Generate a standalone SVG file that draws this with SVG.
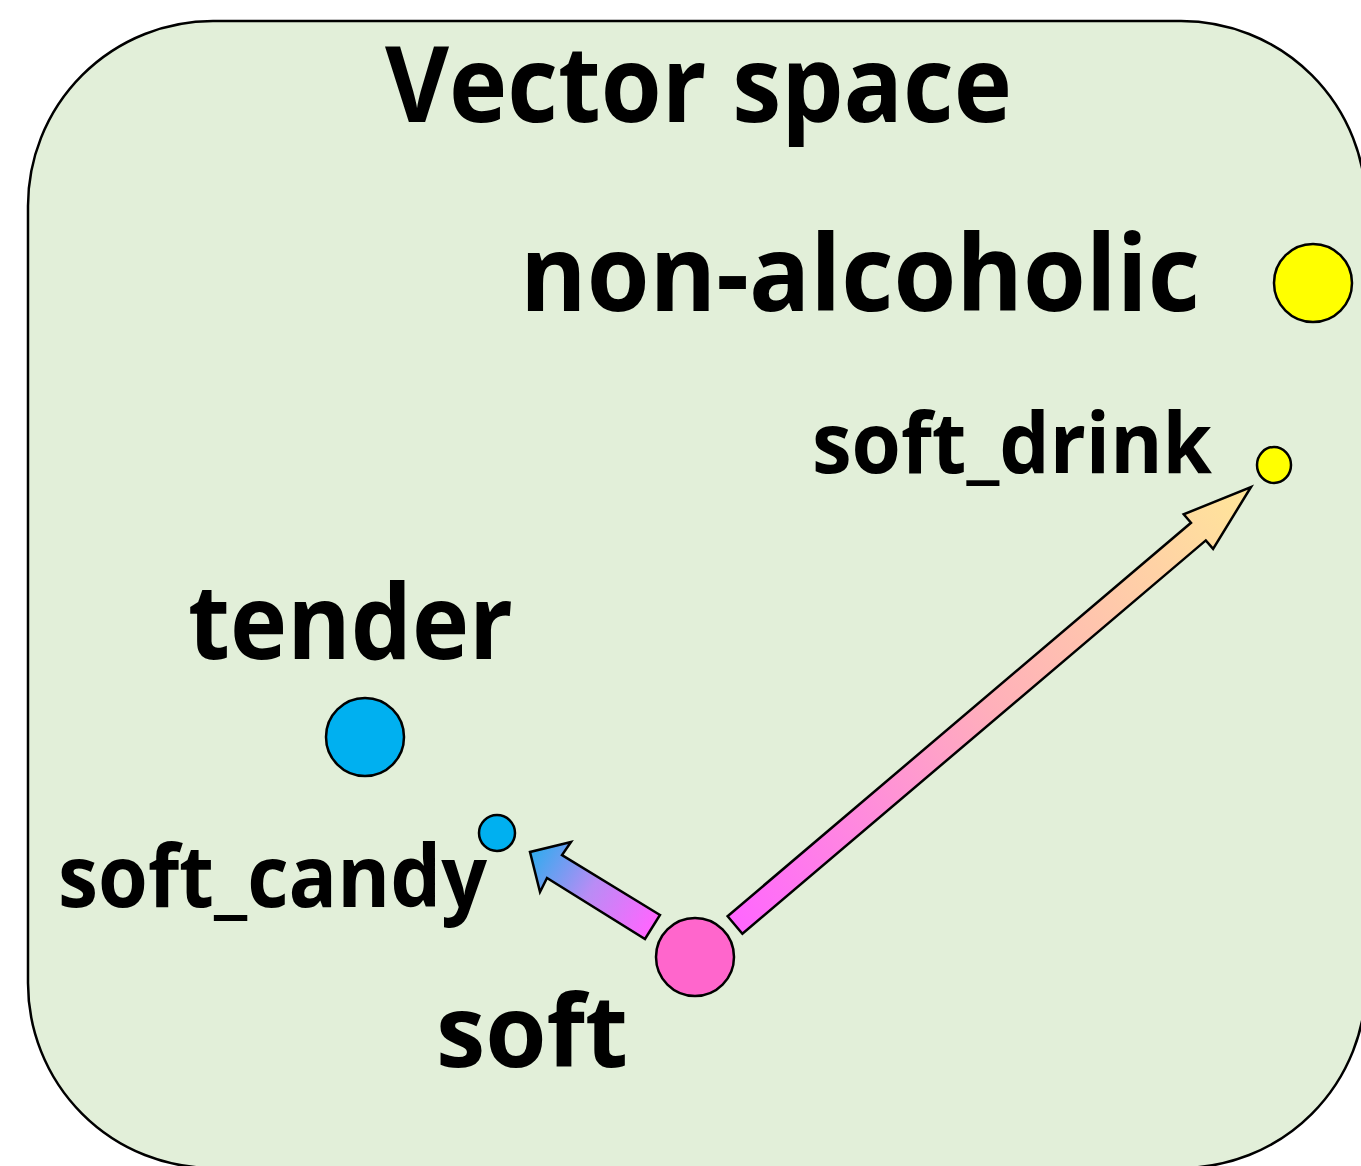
<svg xmlns="http://www.w3.org/2000/svg" width="1361" height="1166" viewBox="0 0 1361 1166">
<style>
  .lbl { font-family: "Open Sans", "Noto Sans", "Liberation Sans", sans-serif; font-weight: 700; fill: #000; }
  .dot { stroke: #000; stroke-width: 2.5; }
  .arrow { stroke: #000; stroke-width: 2.5; stroke-linejoin: miter; }
</style>
<defs>
  <linearGradient id="gDrink" gradientUnits="userSpaceOnUse" x1="735" y1="925" x2="1251" y2="487">
    <stop offset="0" stop-color="#FF66FF"/>
    <stop offset="0.5" stop-color="#FFB0BA"/>
    <stop offset="1" stop-color="#FFE699"/>
  </linearGradient>
  <linearGradient id="gCandy" gradientUnits="userSpaceOnUse" x1="652" y1="927" x2="530" y2="852">
    <stop offset="0" stop-color="#FF66FF"/>
    <stop offset="0.5" stop-color="#B98CF5"/>
    <stop offset="1" stop-color="#2EACEE"/>
  </linearGradient>
</defs>
<g id="vector-space">
  <rect x="28" y="21" width="1338" height="1147" rx="185" ry="185" fill="#E2EFD9" stroke="#000" stroke-width="2.5"/>
  <text class="lbl" x="385" y="122" font-size="106" textLength="627" lengthAdjust="spacingAndGlyphs">Vector space</text>
</g>
<g id="connectors">
  <path class="arrow" fill="url(#gDrink)" d="M727.6,916.2 L1191,522.8 L1183.7,514.3 L1251,487 L1213.1,548.9 L1205.8,540.4 L742.4,933.8 Z"/>
  <path class="arrow" fill="url(#gCandy)" d="M660,915 L562,855 L571,842 L530,852 L540,892 L547,878 L645,939 Z"/>
</g>
<g id="node-non-alcoholic">
  <circle class="dot" cx="1313" cy="283" r="39" fill="#FFFF00"/>
  <text class="lbl" x="520" y="311" font-size="106" textLength="680" lengthAdjust="spacingAndGlyphs">non-alcoholic</text>
</g>
<g id="node-soft_drink">
  <ellipse class="dot" cx="1274" cy="465" rx="17" ry="18" fill="#FFFF00"/>
  <text class="lbl" x="812" y="473" font-size="84" textLength="400" lengthAdjust="spacingAndGlyphs">soft_drink</text>
</g>
<g id="node-tender">
  <circle class="dot" cx="365" cy="737" r="39" fill="#00B0F0"/>
  <text class="lbl" x="188" y="659" font-size="104" textLength="325" lengthAdjust="spacingAndGlyphs">tender</text>
</g>
<g id="node-soft_candy">
  <circle class="dot" cx="497" cy="833" r="18" fill="#00B0F0"/>
  <text class="lbl" x="58" y="907" font-size="86" textLength="429" lengthAdjust="spacingAndGlyphs">soft_candy</text>
</g>
<g id="node-soft">
  <circle class="dot" cx="695" cy="957" r="39" fill="#FF66CC"/>
  <text class="lbl" x="436" y="1067" font-size="100" textLength="192" lengthAdjust="spacingAndGlyphs">soft</text>
</g>
</svg>
